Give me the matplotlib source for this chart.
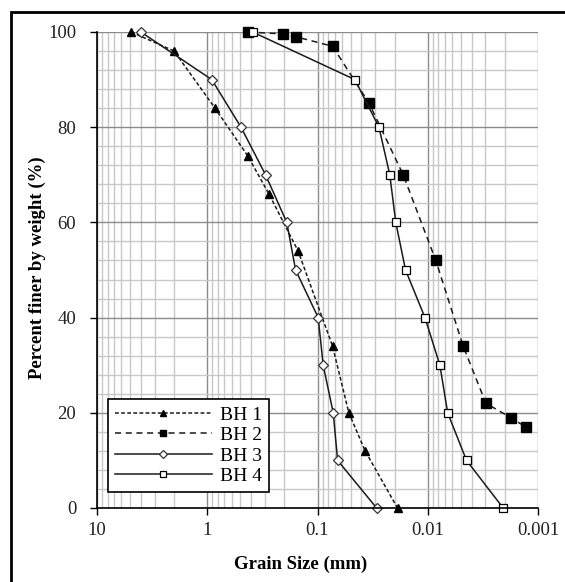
import matplotlib
matplotlib.use("Agg")
import matplotlib.pyplot as plt
import numpy as np
from matplotlib.ticker import LogLocator, MultipleLocator, FixedLocator, NullFormatter
from matplotlib.patches import Rectangle

plt.rcParams['font.family'] = ['Liberation Serif', 'DejaVu Serif']

# grain size (mm) and percent finer (%)
bh1_size = [4.9, 2.0, 0.85, 0.43, 0.276, 0.15, 0.073, 0.052, 0.037, 0.0188]
bh1_pct = [100, 96, 84, 74, 66, 54, 34, 20, 12, 0]

bh2_size = [0.425, 0.207, 0.157, 0.073, 0.034, 0.0167, 0.00845, 0.00477, 0.00297, 0.00177, 0.00129]
bh2_pct = [100, 99.6, 99, 97, 85, 70, 52, 34, 22, 19, 17]

bh3_size = [4.0, 0.91, 0.494, 0.296, 0.19, 0.158, 0.0986, 0.0888, 0.072, 0.0657, 0.0291]
bh3_pct = [100, 90, 80, 70, 60, 50, 40, 30, 20, 10, 0]

bh4_size = [0.388, 0.0458, 0.0277, 0.0221, 0.0195, 0.0159, 0.0106, 0.00776, 0.0066, 0.00445, 0.00207]
bh4_pct = [100, 90, 80, 70, 60, 50, 40, 30, 20, 10, 0]

x_ticks = [10, 1, 0.1, 0.01, 0.001]
x_labels = ['10', '1', '0.1', '0.01', '0.001']

fig = plt.figure(figsize=(5.65, 5.82), dpi=100)
ax = fig.add_axes([97/565, 1-508/582, (538-97)/565, (508-32)/582])

ax.set_xscale('log')
ax.set_xlim(10, 0.001)
ax.set_ylim(0, 100)

ax.xaxis.set_major_locator(FixedLocator(x_ticks))
ax.set_xticks(x_ticks)
ax.set_xticklabels(x_labels)
ax.xaxis.set_minor_locator(LogLocator(base=10, subs=np.arange(2, 10)))
ax.xaxis.set_minor_formatter(NullFormatter())
ax.yaxis.set_major_locator(MultipleLocator(20))
ax.yaxis.set_minor_locator(MultipleLocator(4))

ax.grid(which='minor', color='#c8c8c8', linewidth=1.0)
ax.grid(which='major', color='#8c8c8c', linewidth=1.0)
ax.set_axisbelow(True)

for s in ['top', 'right']:
    ax.spines[s].set_visible(False)
for s in ['left', 'bottom']:
    ax.spines[s].set_color('black')
    ax.spines[s].set_linewidth(1.2)

ax.tick_params(which='major', direction='out', length=5, width=1.0, labelsize=13.5,
               color='black', labelcolor='#222222')
ax.tick_params(which='minor', length=0)
ax.tick_params(axis='x', pad=5)
ax.tick_params(axis='y', pad=10)

lc = '#1a1a1a'
ax.plot(bh1_size, bh1_pct, linestyle=(0, (2.5, 1.5)), color=lc, linewidth=1.1,
        marker='^', markersize=6, markerfacecolor='black', markeredgecolor='black',
        label='BH 1', clip_on=False)
ax.plot(bh2_size, bh2_pct, linestyle=(0, (4, 3)), color=lc, linewidth=1.1,
        marker='s', markersize=6.5, markerfacecolor='black', markeredgecolor='black',
        label='BH 2', clip_on=False)
ax.plot(bh3_size, bh3_pct, linestyle='-', color=lc, linewidth=1.1,
        marker='D', markersize=5, markerfacecolor='white', markeredgecolor='#333333',
        markeredgewidth=0.9, label='BH 3', clip_on=False)
ax.plot(bh4_size, bh4_pct, linestyle='-', color=lc, linewidth=1.1,
        marker='s', markersize=5.5, markerfacecolor='white', markeredgecolor='black',
        markeredgewidth=0.9, label='BH 4', clip_on=False)

leg = ax.legend(loc='lower left', bbox_to_anchor=((108-97)/441, (508-492)/476),
                frameon=True, fancybox=False, edgecolor='black', framealpha=1,
                fontsize=14, handlelength=5.0, handletextpad=0.4, markerscale=0.75,
                borderpad=0.35, labelspacing=0.15, borderaxespad=0)
leg.get_frame().set_linewidth(1.2)

ax.set_xlabel('Grain Size (mm)', fontsize=13.5, fontweight='bold')
ax.xaxis.set_label_coords((301-97)/441, -0.1)
ax.set_ylabel('Percent finer by weight (%)', fontsize=13.5, fontweight='bold')
ax.yaxis.set_label_coords((46-97)/441, (508-268)/476)

# outer frame
fig.patches.append(Rectangle((11/565, -0.1), 1.2, 1 - 12/582 + 0.1,
                             transform=fig.transFigure, fill=False,
                             edgecolor='black', linewidth=2))

fig.savefig('out.png', dpi=100)
